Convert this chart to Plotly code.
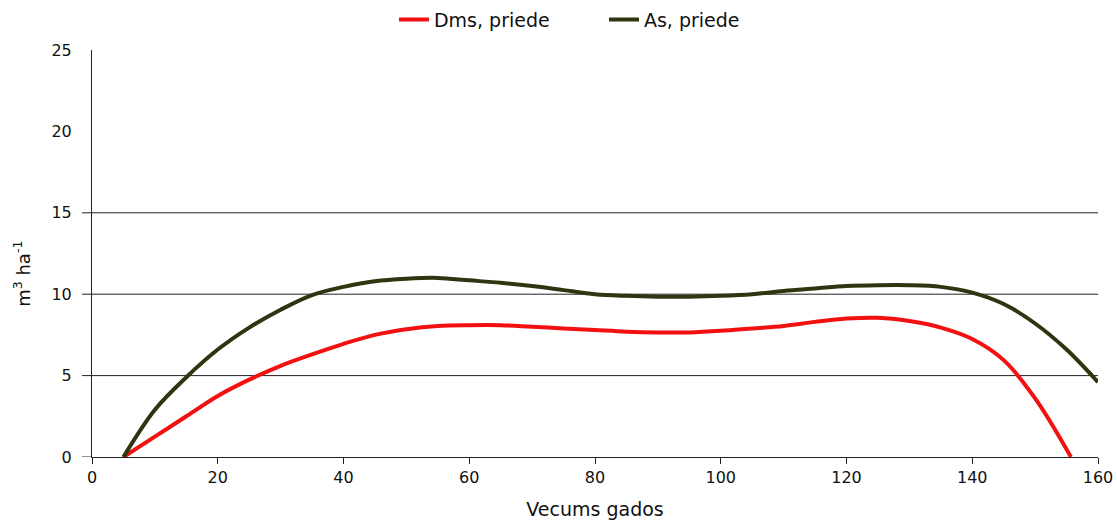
import plotly.graph_objects as go

age_as = [5, 10, 15, 20, 25, 30, 35, 40, 45, 50, 55, 60, 65, 70, 75, 80, 85, 90, 95, 100,
          105, 110, 115, 120, 125, 130, 135, 140, 145, 150, 155, 160]
as_priede = [0, 2.9, 4.9, 6.6, 7.95, 9.05, 9.95, 10.45, 10.8, 10.95, 11.0, 10.85, 10.7, 10.5, 10.25,
             10.0, 9.9, 9.85, 9.85, 9.9, 10.0, 10.2, 10.35, 10.5, 10.55, 10.55, 10.45, 10.1,
             9.4, 8.2, 6.6, 4.6]

age_dms = [5, 10, 15, 20, 25, 30, 35, 40, 45, 50, 55, 60, 65, 70, 75, 80, 85, 90, 95, 100,
           105, 110, 115, 120, 125, 130, 135, 140, 145, 150, 155.7]
dms_priede = [0, 1.25, 2.5, 3.75, 4.75, 5.6, 6.3, 6.95, 7.5, 7.85, 8.05, 8.1, 8.1, 8.0, 7.9, 7.8,
              7.7, 7.65, 7.65, 7.75, 7.9, 8.05, 8.3, 8.5, 8.55, 8.35, 7.95, 7.25, 5.95, 3.6, 0]

x_ticks = [0, 20, 40, 60, 80, 100, 120, 140, 160]
y_ticks = [0, 5, 10, 15, 20, 25]
grid_vals = [5, 10, 15]

FONT = "DejaVu Sans, sans-serif"
AX = "#222222"

fig = go.Figure()
fig.add_trace(go.Scatter(x=age_dms, y=dms_priede, mode="lines", name="Dms, priede",
                         line=dict(color="#f21010", width=4, shape="spline", smoothing=1.0)))
fig.add_trace(go.Scatter(x=age_as, y=as_priede, mode="lines", name="As, priede",
                         line=dict(color="#2f3510", width=4, shape="spline", smoothing=1.0)))

for g in grid_vals:
    fig.add_shape(type="line", xref="paper", yref="y", x0=-0.01, x1=1, y0=g, y1=g,
                  line=dict(color=AX, width=1), layer="below")
fig.add_shape(type="line", xref="paper", yref="y", x0=-0.01, x1=0, y0=0, y1=0,
              line=dict(color=AX, width=1))

fig.add_annotation(text="m<sup>3</sup> ha<sup>-1</sup>", xref="paper", yref="paper",
                   x=-0.0696, y=0.45, xanchor="center", yanchor="middle", textangle=-90,
                   showarrow=False, font=dict(size=18, family=FONT, color="#111111"))

fig.update_layout(
    width=1117, height=520,
    margin=dict(l=92, r=19, t=50, b=63, autoexpand=False),
    paper_bgcolor="white", plot_bgcolor="white",
    font=dict(family=FONT, color="#111111", size=16),
    showlegend=True,
    legend=dict(orientation="h", xref="container", yref="container",
                x=0.3527, xanchor="left", y=0.962, yanchor="middle",
                font=dict(size=19, family=FONT), entrywidth=165, entrywidthmode="pixels",
                bgcolor="rgba(0,0,0,0)"),
    xaxis=dict(range=[0, 160], tickvals=x_ticks, ticktext=[str(v) for v in x_ticks],
               showgrid=False, zeroline=False, showline=True, linecolor=AX, linewidth=1,
               ticks="outside", ticklen=6, tickcolor=AX, automargin=False,
               tickfont=dict(size=16, family=FONT),
               title=dict(text="Vecums gados", font=dict(size=19, family=FONT), standoff=16)),
    yaxis=dict(range=[0, 25], tickvals=y_ticks, ticktext=[str(v) for v in y_ticks],
               showgrid=False, zeroline=False, showline=True, linecolor=AX, linewidth=1,
               ticks="", automargin=False, tickfont=dict(size=16, family=FONT),
               ticklabelstandoff=16),
)

fig.write_html("out.html", config={"displayModeBar": False},
               post_script="document.body.style.margin='0';document.body.style.overflow='hidden';")
